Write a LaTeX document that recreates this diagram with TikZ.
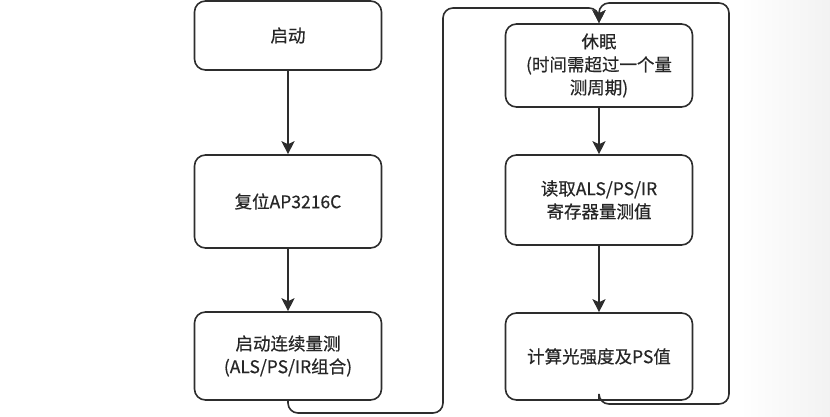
\documentclass[tikz,border=0pt]{standalone}
\usepackage{fontspec}
\newfontfamily\cjk[FakeBold=0.5]{Noto Sans CJK SC}
\usetikzlibrary{arrows.meta,positioning}
\definecolor{flowgray}{RGB}{45,45,45}

\begin{document}
\begin{tikzpicture}[x=1pt, y=-1pt, font=\cjk\fontsize{17.5}{23}\selectfont,
  stepbox/.style={draw=flowgray, line width=1.6pt, rounded corners=11pt, fill=white,
    minimum width=187pt, minimum height=88pt, align=center, text=black!85},
  flow/.style={draw=flowgray, line width=1.6pt, -{Stealth[length=13pt, width=13pt, inset=3pt]}}]
\useasboundingbox (0,0) rectangle (830,417);
\shade[left color=white, right color=black!5] (740,0) rectangle (830,417);
% left column
\node[stepbox, minimum height=69pt] (start) at (288,35.5) {启动};
\node[stepbox, minimum height=93pt] (reset) at (288,201.5) {复位AP3216C};
\node[stepbox] (cont) at (288,356) {启动连续量测\\(ALS/PS/IR组合)};
% right column
\node[stepbox, minimum height=83pt] (sleep) at (599,65.5) {休眠\\(时间需超过一个量\\测周期)};
\node[stepbox, minimum height=90pt] (read) at (599,200) {读取ALS/PS/IR\\寄存器量测值};
\node[stepbox, minimum height=87pt] (calc) at (599,356.5) {计算光强度及PS值};
% loop corners
\coordinate (lbot) at (443,413);
\coordinate (ltop) at (599,8);
\coordinate (rbot) at (729,404);
\coordinate (rtop) at (599,3);
\draw[flow] (start) -- (reset);
\draw[flow] (reset) -- (cont);
\draw[flow] (sleep) -- (read);
\draw[flow] (read) -- (calc);
\draw[flow, rounded corners=10pt] (cont.south) |- (lbot) |- (ltop) -- (sleep.north);
\draw[flow, rounded corners=10pt] (calc.south) |- (rbot) |- (rtop) -- (sleep.north);
\end{tikzpicture}
\end{document}
